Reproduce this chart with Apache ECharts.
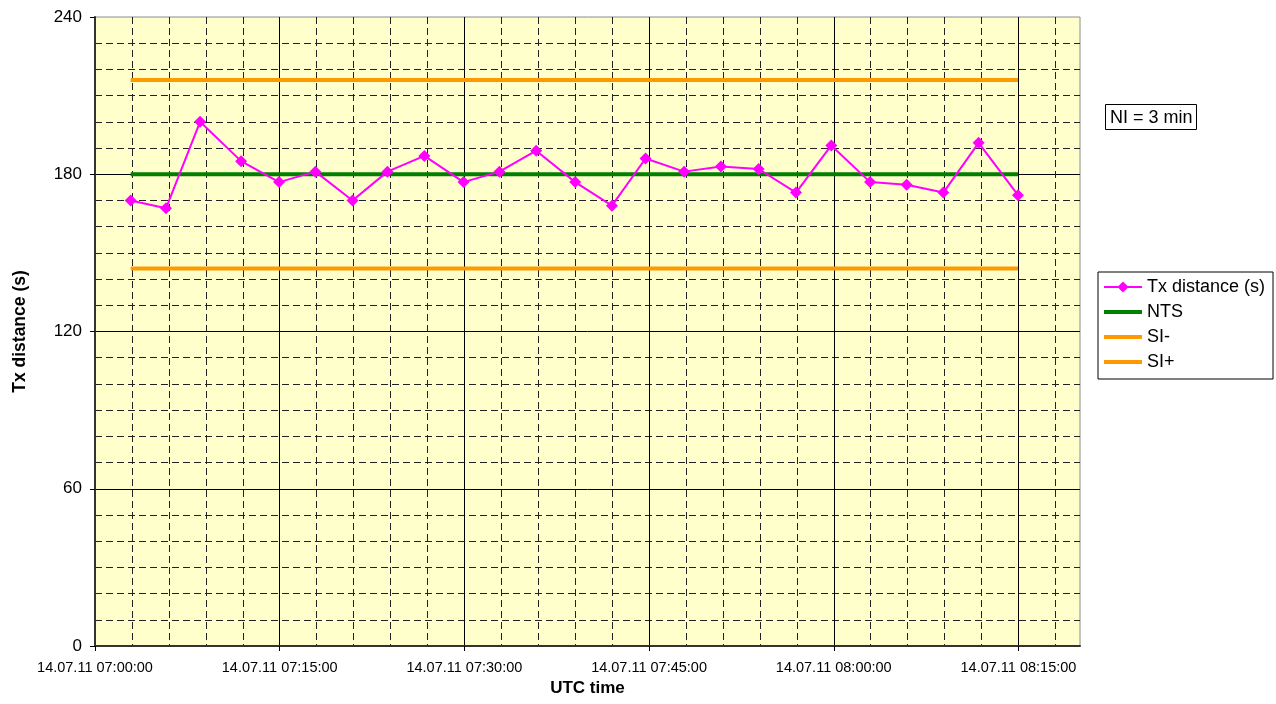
<!DOCTYPE html>
<html>
<head>
<meta charset="utf-8">
<title>Tx distance</title>
<script src="https://cdn.jsdelivr.net/npm/echarts@6/dist/echarts.min.js"></script>
<style>
  html, body { margin: 0; padding: 0; background: #fff; }
  #chart { width: 1276px; height: 704px; }
</style>
</head>
<body>
<div id="chart"></div>
<script>
// 14.07.11, UTC
const day = Date.UTC(2011, 6, 14);

// sample times (UTC) and Tx distance values (s)
const times = ['07:02:54', '07:05:46', '07:08:32', '07:11:52', '07:14:57', '07:17:54', '07:20:55',
  '07:23:45', '07:26:45', '07:29:56', '07:32:51', '07:35:50', '07:39:00', '07:41:59', '07:44:43',
  '07:47:51', '07:50:50', '07:53:54', '07:56:56', '07:59:48', '08:02:57', '08:05:55', '08:08:54',
  '08:11:46', '08:14:58'];
const txDistance = [170, 167, 200, 185, 177, 181, 170, 181, 187, 177, 181, 189, 177, 168, 186,
  181, 183, 182, 173, 191, 177, 176, 173, 192, 172];

// reference levels
const nts = 180;
const siMinus = 144;
const siPlus = 216;

// axis range
const xStart = '07:00:00';
const xEnd = '08:20:00';
const yTicks = [0, 60, 120, 180, 240];

const toMs = s => {
  const p = s.split(':').map(Number);
  return day + ((p[0] * 60 + p[1]) * 60 + p[2]) * 1000;
};
const pad = n => String(n).padStart(2, '0');
const fmt = v => {
  const d = new Date(v);
  return pad(d.getUTCDate()) + '.' + pad(d.getUTCMonth() + 1) + '.' + String(d.getUTCFullYear()).slice(2) +
    ' ' + pad(d.getUTCHours()) + ':' + pad(d.getUTCMinutes()) + ':' + pad(d.getUTCSeconds());
};

const xs = times.map(toMs);
const level = v => xs.map(x => [x, v]);
const font = 'Arial, "Liberation Sans", sans-serif';
const barIcon = 'path://M0,0H38V4H0Z';

const myChart = echarts.init(document.getElementById('chart'));

const option = {
  animation: false,
  textStyle: { fontFamily: font, color: '#000' },
  title: {
    text: 'NI = 3 min',
    left: 1105,
    top: 104,
    padding: [4, 4, 2, 5],
    borderColor: '#000',
    borderWidth: 1,
    backgroundColor: '#fff',
    textStyle: { fontFamily: font, fontSize: 18, fontWeight: 'normal', color: '#000', lineHeight: 20 }
  },
  legend: {
    orient: 'vertical',
    left: 1098,
    top: 272,
    padding: [6, 8, 8, 5],
    itemGap: 7,
    itemWidth: 38,
    itemHeight: 14,
    itemTextGap: 4,
    borderColor: '#000',
    borderWidth: 1,
    backgroundColor: '#fff',
    textStyle: { fontFamily: font, fontSize: 18, color: '#000' },
    data: [
      { name: 'Tx distance (s)' },
      { name: 'NTS', icon: barIcon },
      { name: 'SI-', icon: barIcon },
      { name: 'SI+', icon: barIcon }
    ]
  },
  grid: {
    left: 95,
    top: 17,
    right: 196,
    bottom: 58,
    show: true,
    backgroundColor: '#FFFFCC',
    borderColor: '#8c8c8c',
    borderWidth: 1
  },
  xAxis: [
    {
      // 3 min dashed grid
      type: 'value',
      position: 'bottom',
      min: toMs(xStart),
      max: toMs(xEnd),
      interval: 3 * 60 * 1000,
      axisLine: { show: true, onZero: false, lineStyle: { color: '#333', width: 2 } },
      axisTick: { show: false },
      axisLabel: { show: false },
      splitLine: {
        show: true,
        showMinLine: false,
        showMaxLine: false,
        lineStyle: { color: '#222', width: 1, type: [7, 4] }
      }
    },
    {
      // 15 min labels and solid grid
      type: 'value',
      position: 'bottom',
      min: toMs(xStart),
      max: toMs(xEnd),
      interval: 15 * 60 * 1000,
      name: 'UTC time',
      nameLocation: 'middle',
      nameGap: 33,
      nameTextStyle: { fontFamily: font, fontSize: 17, fontWeight: 'bold', color: '#000' },
      axisLine: { show: false, onZero: false },
      axisTick: { show: true, length: 5, lineStyle: { color: '#000' } },
      axisLabel: {
        margin: 14,
        fontSize: 14.5,
        color: '#000',
        fontFamily: font,
        showMaxLabel: false,
        formatter: fmt
      },
      splitLine: {
        show: true,
        showMinLine: false,
        showMaxLine: false,
        lineStyle: { color: '#000', width: 1 }
      }
    }
  ],
  yAxis: {
    type: 'value',
    min: yTicks[0],
    max: yTicks[yTicks.length - 1],
    interval: yTicks[1] - yTicks[0],
    name: 'Tx distance (s)',
    nameLocation: 'middle',
    nameGap: 66,
    nameTextStyle: { fontFamily: font, fontSize: 17.5, fontWeight: 'bold', color: '#000' },
    axisLine: { show: true, lineStyle: { color: '#333', width: 2 } },
    axisTick: { show: true, length: 5, lineStyle: { color: '#000' } },
    axisLabel: { margin: 13, fontSize: 17, color: '#000', fontFamily: font },
    minorTick: { show: false, splitNumber: 6 },
    splitLine: {
      show: true,
      showMinLine: false,
      showMaxLine: false,
      lineStyle: { color: '#000', width: 1 }
    },
    minorSplitLine: {
      show: true,
      lineStyle: { color: '#222', width: 1, type: [7, 4] }
    }
  },
  series: [
    {
      name: 'Tx distance (s)',
      type: 'line',
      z: 5,
      data: xs.map((x, i) => [x, txDistance[i]]),
      symbol: 'diamond',
      symbolSize: 12,
      itemStyle: { color: '#FF00FF' },
      lineStyle: { color: '#FF00FF', width: 2 }
    },
    {
      name: 'NTS',
      type: 'line',
      z: 3,
      data: level(nts),
      symbol: 'none',
      itemStyle: { color: '#008000' },
      lineStyle: { color: '#008000', width: 4 }
    },
    {
      name: 'SI-',
      type: 'line',
      z: 3,
      data: level(siMinus),
      symbol: 'none',
      itemStyle: { color: '#FF9900' },
      lineStyle: { color: '#FF9900', width: 4 }
    },
    {
      name: 'SI+',
      type: 'line',
      z: 3,
      data: level(siPlus),
      symbol: 'none',
      itemStyle: { color: '#FF9900' },
      lineStyle: { color: '#FF9900', width: 4 }
    }
  ]
};

myChart.setOption(option);
</script>
</body>
</html>
